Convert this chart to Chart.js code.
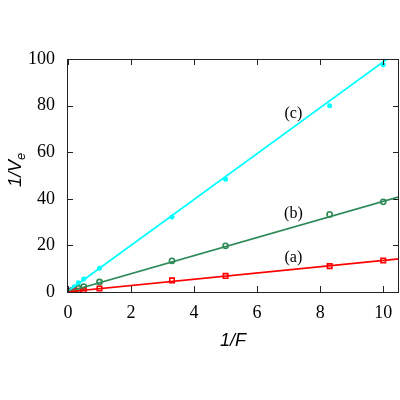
<!DOCTYPE html>
<html>
<head>
<meta charset="utf-8">
<script src="https://cdn.jsdelivr.net/npm/chart.js@4"></script>
<style>
  html, body { margin: 0; padding: 0; background: #fff; }
  canvas { display: block; }
</style>
</head>
<body>
<canvas id="chart" width="400" height="400"></canvas>
<script>
// measured points, 1/F on x
const invF = [0.05, 0.1, 0.2, 0.33, 0.5, 1.0, 3.3, 5.0, 8.3, 10.0];
const seriesA = [0.1, 0.2, 0.3, 0.5, 0.8, 1.5, 5.0, 6.9, 11.1, 13.5];
const seriesB = [0.3, 0.5, 0.9, 1.6, 2.3, 4.3, 13.4, 19.8, 33.3, 38.7];
const seriesC = [0.6, 1.1, 2.2, 4.0, 5.6, 10.2, 32.2, 48.4, 79.9, 97.5];

// fitted straight lines (end points)
const fitX = [0, 10.5];
const fitA = [0.1, 14.2];
const fitB = [0.1, 40.8];
const fitC = [0.3, 103.7];

const xTicks = [0, 2, 4, 6, 8, 10];
const yTicks = [0, 20, 40, 60, 80, 100];

// curve labels
const curveLabels = ['(a)', '(b)', '(c)'];
const labelX = [7.15, 7.15, 7.15];
const labelY = [14.8, 33.6, 76.4];

const RED = '#ff0000', GREEN = '#2e8b57', CYAN = '#00ffff';

function pts(xs, ys) {
    return xs.map((x, i) => ({ x: x, y: ys[i] }));
}

const tickFont = { family: '"Liberation Serif", "Times New Roman", serif', size: 18 };

// inward ticks on all four sides, axis titles and curve labels
const decor = {
    id: 'decor',
    afterDraw(chart) {
        const ctx = chart.ctx;
        const a = chart.chartArea;
        const xs = chart.scales.x, ys = chart.scales.y;
        ctx.save();
        ctx.strokeStyle = '#222';
        ctx.lineWidth = 1;
        ctx.strokeRect(a.left + 0.5, a.top + 0.5, a.right - a.left - 1, a.bottom - a.top);
        ctx.beginPath();
        xTicks.forEach(v => {
            const px = Math.round(xs.getPixelForValue(v)) + 0.5;
            ctx.moveTo(px, a.bottom); ctx.lineTo(px, a.bottom - 6);
            ctx.moveTo(px, a.top); ctx.lineTo(px, a.top + 6);
        });
        yTicks.forEach(v => {
            const py = Math.round(ys.getPixelForValue(v)) + 0.5;
            ctx.moveTo(a.left, py); ctx.lineTo(a.left + 6, py);
            ctx.moveTo(a.right, py); ctx.lineTo(a.right - 6, py);
        });
        ctx.stroke();

        ctx.fillStyle = '#000';
        ctx.font = 'italic 18px "Liberation Sans", Arial, sans-serif';
        ctx.textAlign = 'center';
        ctx.textBaseline = 'middle';
        ctx.fillText('1/F', (a.left + a.right) / 2, 341);

        // y title with subscript
        ctx.translate(16, 170);
        ctx.rotate(-Math.PI / 2);
        ctx.textAlign = 'left';
        const main = '1/V';
        const w1 = ctx.measureText(main).width;
        ctx.font = 'italic 13px "Liberation Sans", Arial, sans-serif';
        const w2 = ctx.measureText('e').width;
        const start = -(w1 + w2) / 2;
        ctx.font = 'italic 18px "Liberation Sans", Arial, sans-serif';
        ctx.fillText(main, start, 0);
        ctx.font = 'italic 13px "Liberation Sans", Arial, sans-serif';
        ctx.fillText('e', start + w1, 5);
        ctx.setTransform(1, 0, 0, 1, 0, 0);
        ctx.restore();

        ctx.save();
        ctx.fillStyle = '#000';
        ctx.font = '16px "Liberation Serif", "Times New Roman", serif';
        ctx.textAlign = 'center';
        ctx.textBaseline = 'middle';
        curveLabels.forEach((t, i) => {
            ctx.fillText(t, xs.getPixelForValue(labelX[i]), ys.getPixelForValue(labelY[i]));
        });
        ctx.restore();
    }
};

const ctx = document.getElementById('chart').getContext('2d');
new Chart(ctx, {
    type: 'scatter',
    data: {
        datasets: [
            { label: 'fit a', data: pts(fitX, fitA), showLine: true, borderColor: RED, borderWidth: 1.7, pointRadius: 0, fill: false },
            { label: 'fit b', data: pts(fitX, fitB), showLine: true, borderColor: GREEN, borderWidth: 1.7, pointRadius: 0, fill: false },
            { label: 'fit c', data: pts(fitX, fitC), showLine: true, borderColor: CYAN, borderWidth: 1.7, pointRadius: 0, fill: false },
            { label: '(a)', data: pts(invF, seriesA), pointStyle: 'rect', pointRadius: 3.2, borderColor: RED, backgroundColor: 'rgba(0,0,0,0)', borderWidth: 1.6 },
            { label: '(b)', data: pts(invF, seriesB), pointStyle: 'circle', pointRadius: 2.6, borderColor: GREEN, backgroundColor: 'rgba(0,0,0,0)', borderWidth: 1.6 },
            { label: '(c)', data: pts(invF, seriesC), pointStyle: 'circle', pointRadius: 2.5, borderColor: CYAN, backgroundColor: CYAN, borderWidth: 0 }
        ]
    },
    options: {
        responsive: false,
        animation: false,
        layout: { autoPadding: false, padding: { top: 59, right: 1, left: 0, bottom: 0 } },
        plugins: { legend: { display: false }, tooltip: { enabled: false } },
        scales: {
            x: {
                type: 'linear',
                min: -0.03,
                max: 10.5,
                border: { display: false },
                grid: { display: false },
                afterBuildTicks: s => { s.ticks = xTicks.map(v => ({ value: v })); },
                afterFit: s => { s.height = 108; },
                ticks: { color: '#000', font: tickFont, padding: 2, maxRotation: 0 }
            },
            y: {
                type: 'linear',
                min: 0,
                max: 100,
                border: { display: false },
                grid: { display: false },
                afterBuildTicks: s => { s.ticks = yTicks.map(v => ({ value: v })); },
                afterFit: s => { s.width = 67; },
                ticks: { color: '#000', font: tickFont, padding: 4 }
            }
        }
    },
    plugins: [decor]
});
</script>
</body>
</html>
